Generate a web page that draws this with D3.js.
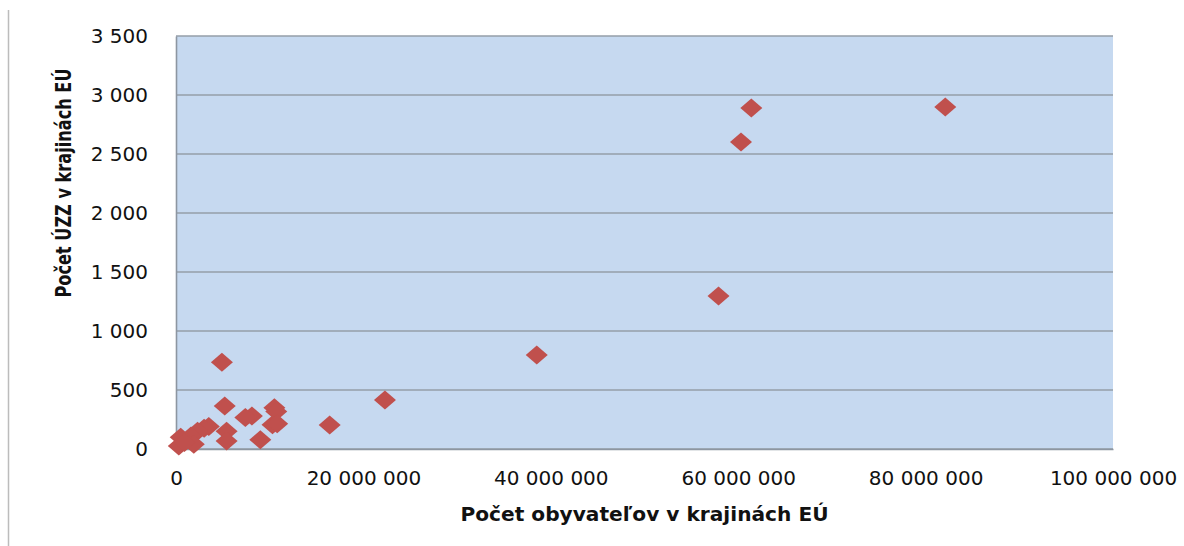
<!DOCTYPE html>
<html>
<head>
<meta charset="utf-8">
<script src="https://cdn.jsdelivr.net/npm/d3@7"></script>
<style>
  html, body { margin: 0; padding: 0; background: #fff; }
  svg { display: block; }
</style>
</head>
<body>
<svg id="chart" width="1184" height="546"></svg>
<script>
// Population (millions) and number of units per EU country
const population = [82.1, 61.4, 60.3, 57.9, 38.5, 22.3, 16.4, 10.5, 10.7, 10.3, 10.8, 9.0, 8.1, 7.4, 5.2, 5.4, 5.4, 4.9, 3.5, 3.0, 2.3, 1.6, 1.9, 0.5, 0.3, 0.9];
const units      = [2898, 2890, 2602, 1297, 797, 415, 203, 350, 318, 205, 215, 78, 280, 268, 365, 150, 68, 735, 190, 175, 150, 110, 40, 100, 25, 55];
const xTicks = [0, 20e6, 40e6, 60e6, 80e6, 100e6];
const yTicks = [0, 500, 1000, 1500, 2000, 2500, 3000, 3500];
const xTitle = "Počet obyvateľov v krajinách EÚ";
const yTitle = "Počet ÚZZ v krajinách EÚ";

const svg = d3.select("#chart");
const m = { left: 176, top: 36, right: 1184 - 1113, bottom: 546 - 449 };
const W = 1184 - m.left - m.right, H = 546 - m.top - m.bottom;

// outer chart border (left edge visible)
svg.append("line").attr("x1", 8.5).attr("x2", 8.5).attr("y1", 10).attr("y2", 546)
  .attr("stroke", "#bcbcbc").attr("stroke-width", 1.5);

const x = d3.scaleLinear().domain([0, 100e6]).range([0, W]);
const y = d3.scaleLinear().domain([0, 3500]).range([H, 0]);

const g = svg.append("g").attr("transform", `translate(${m.left},${m.top})`);

g.append("rect").attr("width", W).attr("height", H).attr("fill", "#C6D9F0");

// gridlines
g.append("g").selectAll("line").data(yTicks).join("line")
  .attr("x1", 0).attr("x2", W)
  .attr("y1", d => y(d)).attr("y2", d => y(d))
  .attr("stroke", "#959ea9").attr("stroke-width", 1.6);

const fmt = v => d3.format(",")(v).replace(/,/g, " ");

// y axis
const ya = g.append("g").call(d3.axisLeft(y).tickValues(yTicks).tickSize(0).tickPadding(28).tickFormat(fmt));
ya.select(".domain").attr("stroke", "#8d96a1").attr("stroke-width", 1.6);
ya.selectAll("text").attr("font-family", "DejaVu Sans").attr("font-size", 20).attr("fill", "#111");

// x axis
const xa = g.append("g").attr("transform", `translate(0,${H})`)
  .call(d3.axisBottom(x).tickValues(xTicks).tickSize(0).tickPadding(22).tickFormat(fmt));
xa.select(".domain").attr("stroke", "#8d96a1").attr("stroke-width", 1.6);
xa.selectAll("text").attr("font-family", "DejaVu Sans").attr("font-size", 20).attr("fill", "#111");

// points (diamonds)
const data = population.map((p, i) => ({ p: p * 1e6, u: units[i] }));
g.append("g").selectAll("path").data(data).join("path")
  .attr("transform", d => `translate(${x(d.p)},${y(d.u)})`)
  .attr("d", "M0,-9.5L11,0L0,9.5L-11,0Z")
  .attr("fill", "#C0504D");

// titles
svg.append("text").attr("x", m.left + W / 2).attr("y", 521)
  .attr("text-anchor", "middle").attr("font-family", "DejaVu Sans").attr("font-weight", "bold")
  .attr("font-size", 20).attr("fill", "#111")
  .attr("textLength", 368).attr("lengthAdjust", "spacingAndGlyphs")
  .text(xTitle);

svg.append("text").attr("transform", "translate(71,183) rotate(-90)")
  .attr("text-anchor", "middle").attr("font-family", "DejaVu Sans").attr("font-weight", "bold")
  .attr("font-size", 21).attr("fill", "#111")
  .attr("textLength", 229).attr("lengthAdjust", "spacingAndGlyphs")
  .text(yTitle);
</script>
</body>
</html>
